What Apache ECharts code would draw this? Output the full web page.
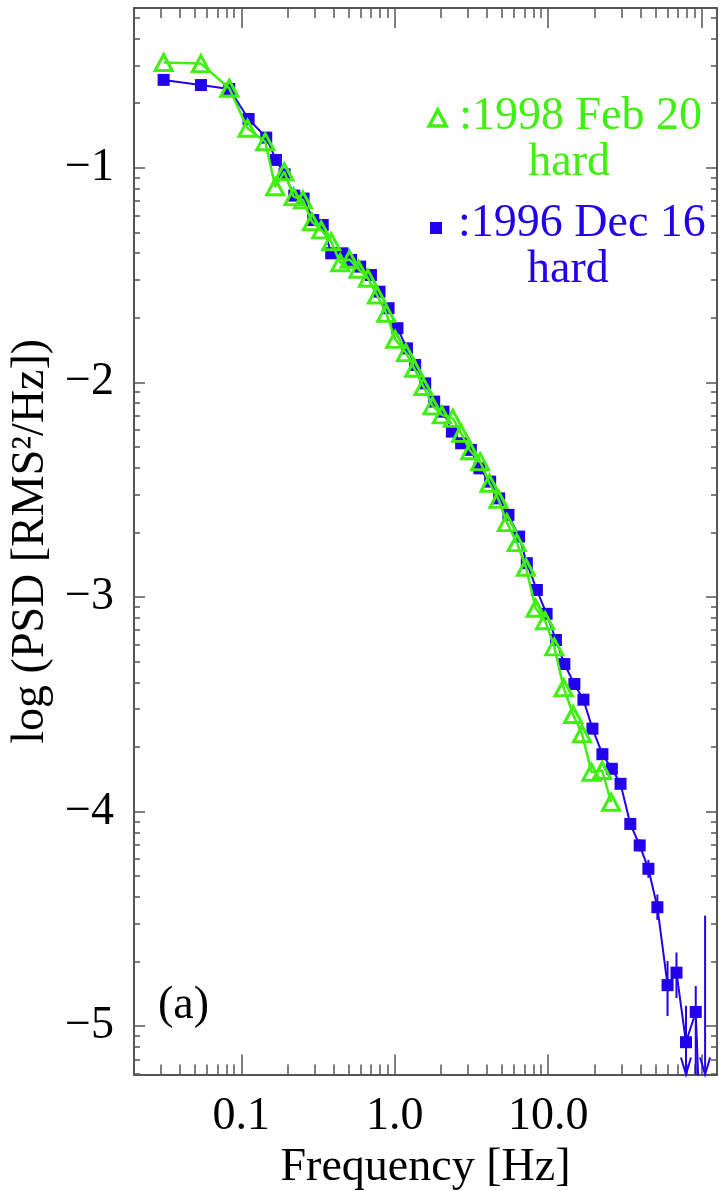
<!DOCTYPE html>
<html>
<head>
<meta charset="utf-8">
<script src="https://cdn.jsdelivr.net/npm/echarts@6/dist/echarts.min.js"></script>
<style>
html,body{margin:0;padding:0;background:#fff;}
#chart{width:721px;height:1191px;}
</style>
</head>
<body>
<div id="chart"></div>
<script>
// ---- data ----
const blueName = ':1996 Dec 16 hard';
const greenName = ':1998 Feb 20 hard';
const blueFreq = [0.0312,0.0546,0.0835,0.1116,0.1455,0.1683,0.1915,0.2215,0.2547,0.2944,0.3396,0.3857,0.457,0.52,0.5957,0.700,0.796,0.912,1.042,1.2015,1.360,1.580,1.808,2.080,2.358,2.710,3.136,3.565,4.188,4.794,5.513,6.47,7.26,8.44,9.77,11.24,12.75,14.82,16.98,19.44,22.58,26.0,29.63,34.3,39.5,45.0,51.5,60.0,68.6,79.1,91.6,105.4];
const blueVal = [-0.591,-0.615,-0.633,-0.773,-0.860,-0.964,-1.031,-1.130,-1.144,-1.244,-1.267,-1.399,-1.399,-1.43,-1.461,-1.500,-1.578,-1.655,-1.748,-1.842,-1.919,-2.005,-2.090,-2.137,-2.230,-2.284,-2.315,-2.401,-2.463,-2.541,-2.618,-2.719,-2.843,-2.968,-3.079,-3.201,-3.313,-3.406,-3.479,-3.614,-3.733,-3.801,-3.871,-4.058,-4.158,-4.267,-4.446,-4.809,-4.751,-5.075,-4.934,-6.1];
const errFreq = [39.5,45.0,51.5,60.0,68.6,79.1,91.6,105.4];
const errLo = [-4.186,-4.309,-4.505,-4.953,-4.869,-6.0,-5.3,-7.0];
const errHi = [-4.130,-4.225,-4.387,-4.697,-4.657,-4.906,-4.813,-4.485];
const errArrow = [0,0,0,0,0,1,0,1];
const greenFreq = [0.0312,0.0546,0.0835,0.1099,0.1434,0.1666,0.1906,0.2191,0.2523,0.2888,0.3321,0.3858,0.4416,0.5077,0.5808,0.669,0.7656,0.880,1.008,1.183,1.34,1.54,1.764,2.03,2.393,2.711,3.104,3.606,4.146,4.745,5.383,6.25,7.16,8.29,9.55,10.97,12.62,14.53,16.63,19.15,22.48,25.72];
const greenVal = [-0.51,-0.515,-0.63,-0.816,-0.879,-1.089,-1.019,-1.135,-1.150,-1.252,-1.29,-1.345,-1.443,-1.427,-1.473,-1.515,-1.593,-1.678,-1.800,-1.862,-1.935,-2.020,-2.110,-2.152,-2.168,-2.238,-2.319,-2.370,-2.471,-2.545,-2.654,-2.747,-2.862,-3.053,-3.111,-3.233,-3.423,-3.548,-3.638,-3.817,-3.809,-3.957];
const xMajorTicks = [0.1, 1, 10, 100];
const xLabelTicks = [0.1, 1, 10];
const xLabelText = ['0.1', '1.0', '10.0'];
const xDecades = [0.01, 0.1, 1, 10, 100];
const minorMult = [2,3,4,5,6,7,8,9];
const yMajorTicks = [-5,-4,-3,-2,-1];
const yDecades = [-6,-5,-4,-3,-2,-1];
const X_MIN = 0.02, X_MAX = 126;
const Y_MIN = -5.2255, Y_MAX = -0.256;

// ---- style ----
const GREEN = '#40f010';
const BLUE = '#2200ee';
const FONT = 'Liberation Serif';
const AXIS_COLOR = '#555';

const xMinor = [];
xDecades.forEach(d => minorMult.forEach(m => { const v = +(d*m).toPrecision(3); if (v > X_MIN && v < X_MAX) xMinor.push(v); }));
const yMinor = [];
yDecades.forEach(d => minorMult.forEach(m => { const v = d + Math.log10(m); if (v > Y_MIN && v < Y_MAX) yMinor.push(v); }));

function xAxisDef(pos, ticks, len, major, showLabel) {
  return {
    type: 'log', logBase: 10, min: X_MIN, max: X_MAX, position: pos, gridIndex: 0,
    axisLine: {show: major, lineStyle: {color: AXIS_COLOR, width: 2}},
    axisTick: {show: true, inside: true, length: len, customValues: ticks, lineStyle: {color: AXIS_COLOR, width: 1.5}},
    axisLabel: showLabel ? {
      show: true, customValues: xLabelTicks, margin: 19,
      formatter: v => xLabelText[Math.round(Math.log10(v)) + 1],
      fontFamily: FONT, fontSize: 46, color: '#000'
    } : {show: false},
    splitLine: {show: false}, minorTick: {show: false},
    name: showLabel ? 'Frequency [Hz]' : '',
    nameLocation: 'middle', nameGap: 70,
    nameTextStyle: {fontFamily: FONT, fontSize: 46, color: '#000'}
  };
}
function yAxisDef(pos, ticks, len, major, showLabel) {
  return {
    type: 'value', min: Y_MIN, max: Y_MAX, position: pos, gridIndex: 0,
    axisLine: {show: major, lineStyle: {color: AXIS_COLOR, width: 2}},
    axisTick: {show: true, inside: true, length: len, customValues: ticks, lineStyle: {color: AXIS_COLOR, width: 1.5}},
    axisLabel: showLabel ? {
      show: true, customValues: yMajorTicks, margin: 20,
      formatter: v => String(Math.round(v)).replace('-', '\u2212'),
      fontFamily: FONT, fontSize: 46, color: '#000'
    } : {show: false},
    splitLine: {show: false}, minorTick: {show: false},
    name: showLabel ? 'log (PSD [RMS\u00b2/Hz])' : '',
    nameLocation: 'middle', nameGap: 72, nameRotate: 90,
    nameTextStyle: {fontFamily: FONT, fontSize: 46, color: '#000'}
  };
}

function renderErr(params, api) {
  const cs = params.coordSys;
  const f = api.value(0), lo = api.value(1), hi = api.value(2), arrow = api.value(3);
  const pHi = api.coord([f, hi]);
  const pLo = api.coord([f, lo]);
  const bottom = cs.y + cs.height;
  const x = pHi[0];
  const yLo = Math.min(pLo[1], bottom);
  const children = [{type: 'line', shape: {x1: x, y1: pHi[1], x2: x, y2: yLo}, style: {stroke: BLUE, lineWidth: 2}}];
  if (arrow) {
    children.push({type: 'polyline', shape: {points: [[x - 5, bottom - 17], [x, bottom], [x + 5, bottom - 17]]}, style: {stroke: BLUE, lineWidth: 2, fill: null}});
  }
  return {type: 'group', children: children};
}

const chart = echarts.init(document.getElementById('chart'), null, {renderer: 'canvas'});
chart.setOption({
  animation: false,
  backgroundColor: '#fff',
  grid: {left: 134, right: 4, top: 8, bottom: 116.5, containLabel: false, outerBoundsMode: 'none'},
  xAxis: [
    xAxisDef('bottom', xMajorTicks, 20, true, true),
    xAxisDef('bottom', xMinor, 10, false, false),
    xAxisDef('top', xMajorTicks, 20, true, false),
    xAxisDef('top', xMinor, 10, false, false)
  ],
  yAxis: [
    yAxisDef('left', yMajorTicks, 11, true, true),
    yAxisDef('left', yMinor, 6, false, false),
    yAxisDef('right', yMajorTicks, 11, true, false),
    yAxisDef('right', yMinor, 6, false, false)
  ],
  legend: [
    {
      left: 427.5, top: 67, padding: 0, itemWidth: 17, itemHeight: 16, selectedMode: false,
      data: [{name: greenName, icon: 'triangle', itemStyle: {color: 'rgba(0,0,0,0)', borderColor: GREEN, borderWidth: 3.5}}],
      formatter: () => '{s| }\n{a|:1998 Feb 20}\n{b|hard}',
      textStyle: {color: GREEN, fontFamily: FONT, fontSize: 46,
        rich: {s: {fontSize: 10, lineHeight: 44}, a: {fontSize: 46, lineHeight: 46, color: GREEN, fontFamily: FONT, padding: [0, 0, 0, 8]},
               b: {fontSize: 46, lineHeight: 46, color: GREEN, fontFamily: FONT, padding: [0, 0, 0, 77]}}}
    },
    {
      left: 430, top: 177, padding: 0, itemWidth: 12, itemHeight: 12, selectedMode: false,
      data: [{name: blueName, icon: 'rect', itemStyle: {color: BLUE, borderWidth: 0}}],
      formatter: () => '{s| }\n{a|:1996 Dec 16}\n{b|hard}',
      textStyle: {color: BLUE, fontFamily: FONT, fontSize: 46,
        rich: {s: {fontSize: 10, lineHeight: 38}, a: {fontSize: 46, lineHeight: 46, color: BLUE, fontFamily: FONT, padding: [0, 0, 0, 11]},
               b: {fontSize: 46, lineHeight: 46, color: BLUE, fontFamily: FONT, padding: [0, 0, 0, 80]}}}
    }
  ],
  graphic: [{type: 'text', left: 158, top: 983, style: {text: '(a)', font: '46px "Liberation Serif"', fill: '#000'}}],
  series: [
    {
      name: 'err', type: 'custom', xAxisIndex: 0, yAxisIndex: 0, renderItem: renderErr,
      encode: {x: 0, y: [1, 2]}, z: 2, silent: true,
      data: errFreq.map((f, i) => [f, errLo[i], errHi[i], errArrow[i]])
    },
    {
      name: blueName, type: 'line', xAxisIndex: 0, yAxisIndex: 0, clip: true,
      data: blueFreq.map((f, i) => [f, blueVal[i]]),
      symbol: 'rect', symbolSize: 12, showAllSymbol: true,
      itemStyle: {color: BLUE}, lineStyle: {color: BLUE, width: 2}, z: 3
    },
    {
      name: greenName, type: 'line', xAxisIndex: 0, yAxisIndex: 0, clip: true,
      data: greenFreq.map((f, i) => [f, greenVal[i]]),
      symbol: 'triangle', symbolSize: [17, 16], showAllSymbol: true,
      itemStyle: {color: 'rgba(0,0,0,0)', borderColor: GREEN, borderWidth: 3},
      lineStyle: {color: GREEN, width: 2.5}, z: 4
    }
  ]
});
</script>
</body>
</html>
